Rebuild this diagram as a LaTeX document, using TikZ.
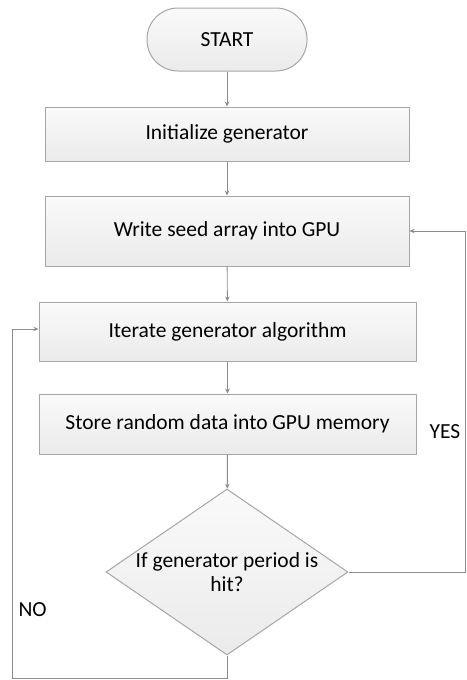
\documentclass[tikz,border=0pt]{standalone}
\usepackage{fontspec}
\setmainfont{Carlito}
\usetikzlibrary{arrows.meta,shapes.geometric}

\tikzset{
  flowbox/.style={draw=black!35, line width=1pt, top color=black!2, bottom color=black!8,
    inner sep=0pt, font=\fontsize{21.5}{24}\selectfont},
  flowline/.style={draw=black!45, line width=0.9pt, -{Stealth[length=5pt,width=4.5pt,fill=black!65]}},
  flowlab/.style={font=\fontsize{21.5}{24}\selectfont}
}

\begin{document}
\begin{tikzpicture}[x=1pt,y=-1pt]
    \useasboundingbox(0,0)rectangle(466,680);
    \node[flowbox,rounded corners=31pt,minimum width=160pt,minimum height=63pt](start)at(227,39.5){START};
    \node[flowbox,minimum width=364pt,minimum height=54pt](init)at(227,134){Initialize generator};
    \node[flowbox,minimum width=364pt,minimum height=70pt](seed)at(227,231){Write seed array into GPU};
    \node[flowbox,minimum width=377pt,minimum height=59pt](iter)at(227.5,331.5){Iterate generator algorithm};
    \node[flowbox,minimum width=377pt,minimum height=60pt](store)at(227.5,424){Store random data into GPU memory};
    \node[flowbox,diamond,aspect=1.46,minimum width=242pt,minimum height=166pt,align=center,
      font=\fontsize{21.5}{24}\selectfont](check)at(227,572){If generator period is\\hit?};
    \coordinate(yesA)at(465,572);
    \coordinate(yesB)at(465,231);
    \coordinate(noA)at(227,678);
    \coordinate(noB)at(12,678);
    \coordinate(noC)at(12,329);
    \draw[flowline](start)--(init);
    \draw[flowline](init)--(seed);
    \draw[flowline](seed)--(iter);
    \draw[flowline](iter)--(store);
    \draw[flowline](store)--(check);
    \draw[flowline](check.east)--(yesA)--(yesB)--(seed.east|-yesB);
    \draw[flowline](check.south)--(noA)--(noB)--(noC)--(iter.west|-noC);
    \node[flowlab,anchor=west](yes)at(426,432){YES};
    \node[flowlab,anchor=west](no)at(15,610){NO};
\end{tikzpicture}
\end{document}
